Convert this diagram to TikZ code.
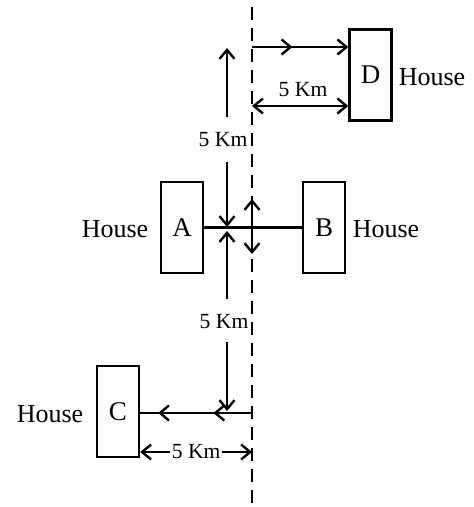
\documentclass[tikz,border=0pt]{standalone}
\usepackage{fontspec}
\setmainfont{Liberation Serif}
\usetikzlibrary{arrows.meta,decorations.markings}
\begin{document}
\begin{tikzpicture}[x=0.5pt,y=-0.5pt,
  line width=1.2pt,
  >={Straight Barb[length=4.5pt,width=7.5pt]},
  house/.style={draw,minimum width=21pt,minimum height=45.5pt,inner sep=0pt,font=\fontsize{13.5}{15}\selectfont},
  lbl/.style={font=\fontsize{13}{15}\selectfont,inner sep=0pt},
  km/.style={font=\fontsize{10.8}{12}\selectfont,inner sep=1pt},
  midarrow/.style={decoration={markings,mark=at position #1 with {\arrow{>}}},postaction={decorate}},
  divider/.style={dash pattern=on 6.5pt off 4pt}
]
\useasboundingbox (0,0) rectangle (474,507);

% houses
\node[house] (A) at (182,227.5) {A};
\node[house] (B) at (324,227.5) {B};
\node[house] (C) at (118,411.5) {C};
\node[house] (D) at (370.5,75) {D};
\node[lbl] (hA) at (115,229) {House};
\node[lbl] (hB) at (386,229) {House};
\node[lbl] (hC) at (50,414) {House};
\node[lbl] (hD) at (432,77) {House};

% dashed line
\coordinate (dtop) at (252,7);
\coordinate (dbot) at (252,507);
\draw[divider] (dtop) -- (dbot);

% A - B road
\draw (A) -- (B);

% arrows to D
\coordinate (t1) at (252,47);
\draw[->,midarrow=0.42] (t1) -- (t1 -| D.west);
\coordinate (t2) at (252,106);
\draw[<->] (t2) -- (t2 -| D.west);
\node[km] (k1) at (303,90) {5 Km};

% vertical path through A-B
\node[km] (k2) at (223,140) {5 Km};
\node[km] (k3) at (224,322) {5 Km};
\coordinate (va) at (227,117);
\coordinate (vt) at (227,48);
\coordinate (vb) at (227,162);
\coordinate (vc) at (227,227);
\coordinate (vd) at (227,231);
\coordinate (ve) at (227,299);
\coordinate (vf) at (227,342);
\coordinate (vg) at (227,411);
\draw[->] (va) -- (vt);
\draw[->] (vb) -- (vc);
\draw[->] (ve) -- (vd);
\draw[->] (vf) -- (vg);

% vertical double arrow on divider
\coordinate (u1) at (252,199);
\coordinate (u2) at (252,254);
\draw[<->] (u1) -- (u2);

% arrows to C
\coordinate (c1) at (252,413);
\draw[decoration={markings,
    mark=at position 0.345 with {\arrow{>}},
    mark=at position 0.84 with {\arrow{>}}},postaction={decorate}]
  (c1) -- (c1 -| C.east);
\coordinate (c2) at (252,452);
\draw[<->] (c2 -| C.east) -- node[km,fill=white] (k4) {5 Km} (c2);
\end{tikzpicture}
\end{document}
